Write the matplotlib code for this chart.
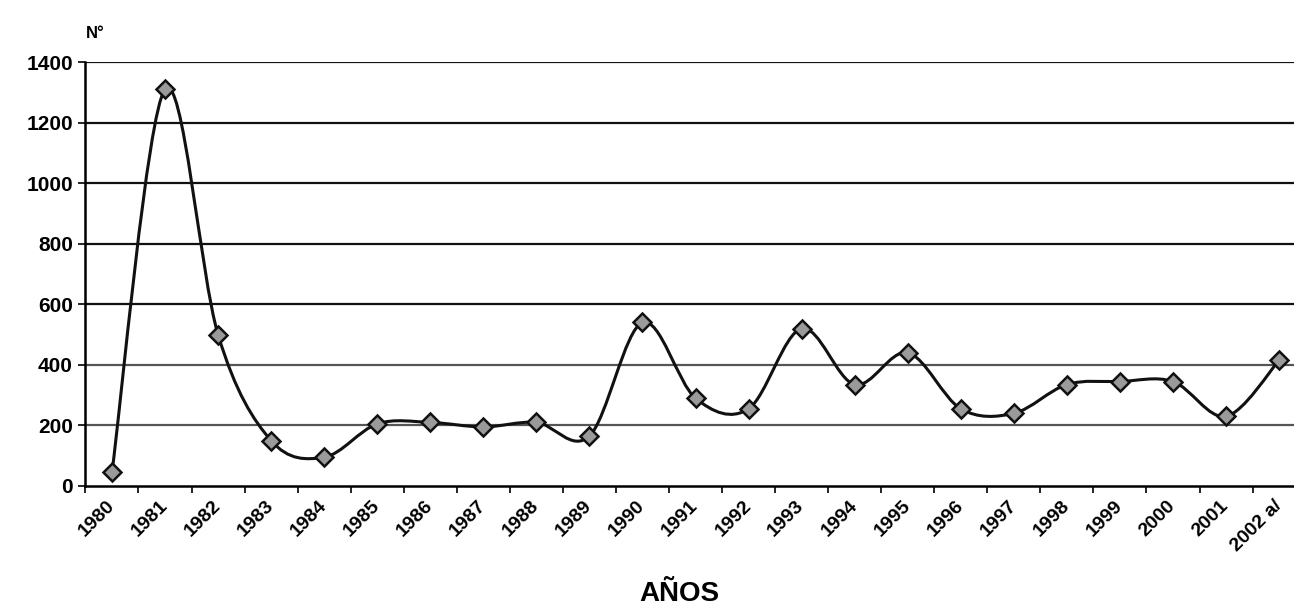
import numpy as np
import matplotlib.pyplot as plt
from matplotlib.path import Path
from matplotlib.patches import PathPatch
import matplotlib.transforms as mtransforms

years = ["1980", "1981", "1982", "1983", "1984", "1985", "1986", "1987", "1988", "1989",
         "1990", "1991", "1992", "1993", "1994", "1995", "1996", "1997", "1998", "1999",
         "2000", "2001", "2002 a/"]
values = [45, 1310, 500, 150, 95, 205, 210, 195, 210, 165,
          540, 290, 255, 520, 335, 440, 255, 240, 335, 345,
          345, 230, 415]

plt.rcParams['font.family'] = ['Liberation Sans', 'DejaVu Sans']

fig = plt.figure(figsize=(12.94, 6.09), dpi=100)
ax = fig.add_axes([0.066, 0.202, 0.943, 0.696])

x = np.arange(len(values))
y = np.array(values, dtype=float)

# smoothed line (Excel-like) as cubic bezier segments
verts = [(x[0], y[0])]
codes = [Path.MOVETO]
n = len(x)
for i in range(n - 1):
    p0 = np.array([x[max(i - 1, 0)], y[max(i - 1, 0)]])
    p1 = np.array([x[i], y[i]])
    p2 = np.array([x[i + 1], y[i + 1]])
    p3 = np.array([x[min(i + 2, n - 1)], y[min(i + 2, n - 1)]])
    c1 = p1 + (p2 - p0) / 6
    c2 = p2 - (p3 - p1) / 6
    verts += [tuple(c1), tuple(c2), tuple(p2)]
    codes += [Path.CURVE4] * 3
ax.add_patch(PathPatch(Path(verts, codes), fill=False, edgecolor="#111111", lw=2.2, zorder=3))
ax.plot(x, y, ls="none", marker="D", ms=9, mfc="#9a9a9a", mec="#111111", mew=1.8, zorder=4)

ax.set_xlim(-0.5, len(values) - 0.5)
ax.set_ylim(0, 1400)
ax.set_yticks(range(0, 1401, 200))
ax.set_xticks(x)
ax.set_xticklabels(years, rotation=45, ha="right", rotation_mode="anchor")
ax.set_xticks(np.arange(-0.5, len(values), 1), minor=True)
ax.tick_params(axis="x", which="major", length=0, pad=8, labelsize=14)
ax.tick_params(axis="x", which="minor", length=5, width=1.2, direction="out")
ax.tick_params(axis="y", length=5, width=1.2, labelsize=15, pad=4)
shift = mtransforms.ScaledTranslation(-6 / 100, 0, fig.dpi_scale_trans)
for lab in ax.get_xticklabels():
    lab.set_fontweight("bold")
    lab.set_transform(lab.get_transform() + shift)
for lab in ax.get_yticklabels():
    lab.set_fontweight("bold")

for v in range(200, 1401, 200):
    c = "#555555" if v in (200, 400) else "#111111"
    ax.axhline(v, color=c, lw=1.6, zorder=1)

for s in ["top", "right"]:
    ax.spines[s].set_visible(False)
ax.spines["left"].set_linewidth(1.8)
ax.spines["bottom"].set_linewidth(1.8)

fig.text(0.066, 0.945, "N°", fontsize=12, fontweight="bold", ha="left", va="center")
fig.text(0.525, 0.025, "AÑOS", fontsize=20, fontweight="bold", ha="center", va="center")

fig.savefig("out.png", dpi=100)
